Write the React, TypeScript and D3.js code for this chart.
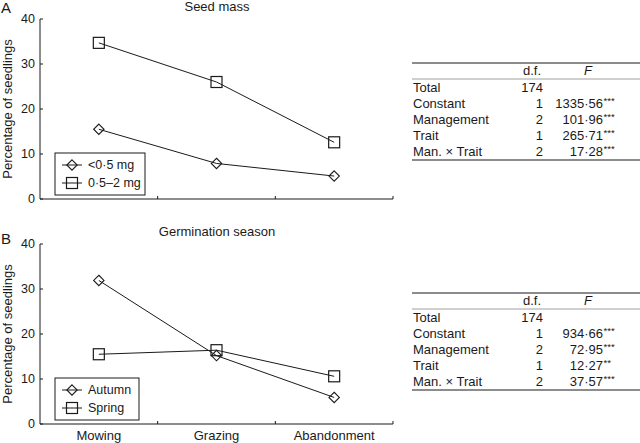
import React from "react";
import * as d3 from "d3";

const categories = ["Mowing", "Grazing", "Abandonment"];
const yTicks = [0, 10, 20, 30, 40];

const seedSmall = [15.5, 7.9, 5.1];
const seedLarge = [34.7, 26.0, 12.6];
const autumn = [31.9, 15.2, 5.9];
const spring = [15.5, 16.4, 10.6];

const panelTitles = ["Seed mass", "Germination season"];
const panelLetters = ["A", "B"];
const legendA = ["<0·5 mg", "0·5–2 mg"];
const legendB = ["Autumn", "Spring"];

const rowLabels = ["Total", "Constant", "Management", "Trait", "Man. × Trait"];
const dfValues = ["174", "1", "2", "1", "2"];
const fValuesA = ["", "1335·56", "101·96", "265·71", "17·28"];
const sigA = ["", "***", "***", "***", "***"];
const fValuesB = ["", "934·66", "72·95", "12·27", "37·57"];
const sigB = ["", "***", "***", "**", "***"];

const FONT = "'Liberation Sans', Arial, Helvetica, sans-serif";
const INK = "#1a1a1a";

function Diamond({ x, y }: { x: number; y: number }) {
  const r = 5.2;
  return (
    <path
      d={`M${x},${y - r}L${x + r},${y}L${x},${y + r}L${x - r},${y}Z`}
      fill="none"
      stroke={INK}
      strokeWidth={1.1}
    />
  );
}

function Square({ x, y }: { x: number; y: number }) {
  const r = 5.5;
  return (
    <rect x={x - r} y={y - r} width={2 * r} height={2 * r} fill="none" stroke={INK} strokeWidth={1.2} />
  );
}

function Panel({
  off,
  idx,
  diamondData,
  squareData,
  legend,
  legendW,
  showX,
  letterY,
}: {
  off: number;
  idx: number;
  diamondData: number[];
  squareData: number[];
  legend: string[];
  legendW: number;
  showX: boolean;
  letterY: number;
}) {
  const x = d3.scaleBand<string>().domain(categories).range([40, 393]);
  const y = d3.scaleLinear().domain([0, 40]).range([199 + off, 19 + off]);
  const cx = (c: string) => (x(c) as number) + x.bandwidth() / 2;
  const line = d3
    .line<number>()
    .x((_, i) => cx(categories[i]))
    .y((d) => y(d));
  const bounds = categories.map((c) => (x(c) as number) + x.bandwidth());
  const lx = 55;
  const ly = 153 + off;
  return (
    <g fontFamily={FONT} fill={INK}>
      <text x={1} y={letterY} fontSize={15}>
        {panelLetters[idx]}
      </text>
      <text x={217} y={10.5 + off} fontSize={13} textAnchor="middle">
        {panelTitles[idx]}
      </text>
      <text transform={`translate(12,${109 + off}) rotate(-90)`} fontSize={13} textAnchor="middle">
        Percentage of seedlings
      </text>
      <line x1={40} x2={40} y1={y(40)} y2={y(0)} stroke={INK} strokeWidth={1} />
      <line x1={40} x2={393} y1={y(0)} y2={y(0)} stroke={INK} strokeWidth={1} />
      {yTicks.map((t) => (
        <g key={t}>
          <line x1={40} x2={43} y1={y(t)} y2={y(t)} stroke={INK} />
          <text x={35} y={y(t)} dy="0.35em" fontSize={12.5} textAnchor="end">
            {t}
          </text>
        </g>
      ))}
      {bounds.map((b, i) => (
        <line key={i} x1={b} x2={b} y1={y(0)} y2={y(0) - 3} stroke={INK} />
      ))}
      {showX &&
        categories.map((c) => (
          <text key={c} x={cx(c)} y={440} fontSize={13} textAnchor="middle">
            {c}
          </text>
        ))}
      <path d={line(squareData) || ""} fill="none" stroke={INK} strokeWidth={1} />
      <path d={line(diamondData) || ""} fill="none" stroke={INK} strokeWidth={1} />
      {squareData.map((v, i) => (
        <Square key={"s" + i} x={cx(categories[i])} y={y(v)} />
      ))}
      {diamondData.map((v, i) => (
        <Diamond key={"d" + i} x={cx(categories[i])} y={y(v)} />
      ))}
      <rect x={lx} y={ly} width={legendW} height={42} fill="white" stroke={INK} strokeWidth={1} />
      <line x1={lx + 7} x2={lx + 27} y1={ly + 12} y2={ly + 12} stroke={INK} />
      <Diamond x={lx + 17} y={ly + 12} />
      <text x={lx + 33} y={ly + 12} dy="0.35em" fontSize={12.5}>
        {legend[0]}
      </text>
      <line x1={lx + 7} x2={lx + 27} y1={ly + 30} y2={ly + 30} stroke={INK} />
      <Square x={lx + 17} y={ly + 30} />
      <text x={lx + 33} y={ly + 30} dy="0.35em" fontSize={12.5}>
        {legend[1]}
      </text>
    </g>
  );
}

function Table({ top, fVals, sig }: { top: number; fVals: string[]; sig: string[] }) {
  const left = 412;
  const right = 640;
  return (
    <g fontFamily={FONT} fill={INK} fontSize={13}>
      <line x1={left} x2={right} y1={top} y2={top} stroke="#666" strokeWidth={1.5} />
      <text x={532} y={top + 11.5} textAnchor="middle">
        d.f.
      </text>
      <text x={588} y={top + 11.5} textAnchor="middle" fontStyle="italic">
        F
      </text>
      <line x1={left} x2={right} y1={top + 16} y2={top + 16} stroke="#888" strokeWidth={0.8} />
      {rowLabels.map((r, i) => {
        const by = top + 28.5 + i * 16;
        return (
          <g key={r}>
            <text x={413} y={by}>
              {r}
            </text>
            <text x={543} y={by} textAnchor="end">
              {dfValues[i]}
            </text>
            <text x={603} y={by} textAnchor="end">
              {fVals[i]}
            </text>
            <text x={603.5} y={by - 3.5} fontSize={9.5}>
              {sig[i]}
            </text>
          </g>
        );
      })}
      <line x1={left} x2={right} y1={top + 97} y2={top + 97} stroke="#666" strokeWidth={1.5} />
    </g>
  );
}

export default function App() {
  return (
    <svg width={640} height={443} style={{ position: "absolute", left: 0, top: 0, background: "white" }}>
      <rect width={640} height={443} fill="white" />
      <Panel
        off={0}
        idx={0}
        diamondData={seedSmall}
        squareData={seedLarge}
        legend={legendA}
        legendW={90}
        showX={false}
        letterY={13}
      />
      <Panel
        off={225}
        idx={1}
        diamondData={autumn}
        squareData={spring}
        legend={legendB}
        legendW={84}
        showX={true}
        letterY={244}
      />
      <Table top={63} fVals={fValuesA} sig={sigA} />
      <Table top={293} fVals={fValuesB} sig={sigB} />
    </svg>
  );
}
